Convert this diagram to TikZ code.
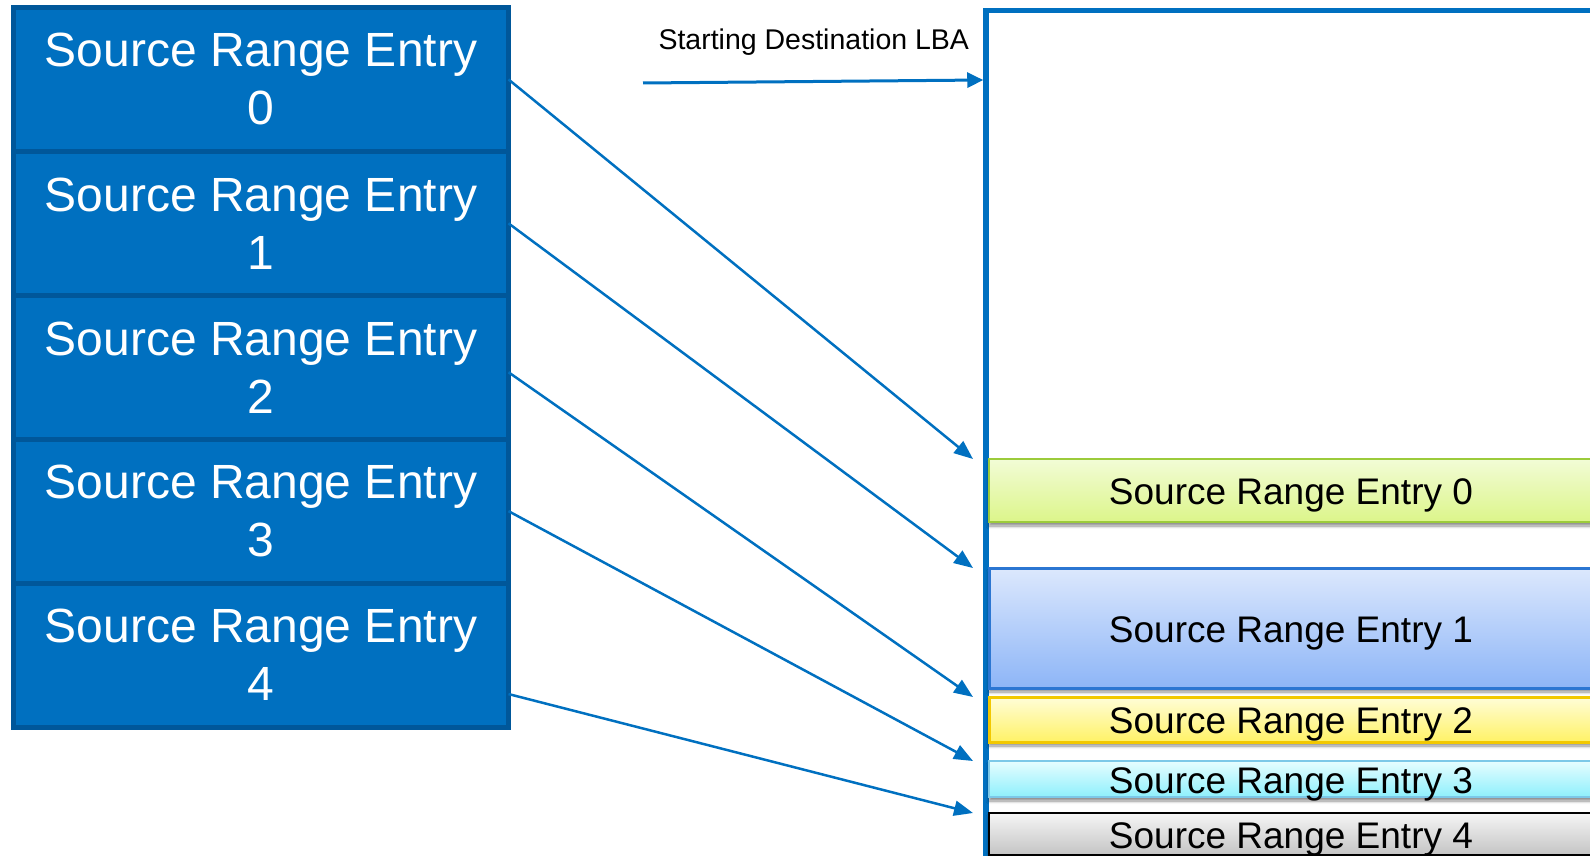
\documentclass[tikz,border=0pt]{standalone}
\usepackage{fontspec}
\setmainfont{Liberation Sans}
\usetikzlibrary{arrows.meta,calc,shadows.blur}

\definecolor{srcblue}{HTML}{0070C0}
\definecolor{srcedge}{HTML}{00579A}
\definecolor{grnTop}{HTML}{F2FCD6}
\definecolor{grnBot}{HTML}{DCF58A}
\definecolor{grnEdge}{HTML}{9CCB3B}
\definecolor{bluTop}{HTML}{DCE8FD}
\definecolor{bluBot}{HTML}{8DB5F7}
\definecolor{bluEdge}{HTML}{2B76D2}
\definecolor{yelTop}{HTML}{FFFDD8}
\definecolor{yelBot}{HTML}{FFF266}
\definecolor{yelEdge}{HTML}{F2C800}
\definecolor{cynTop}{HTML}{E6FDFF}
\definecolor{cynBot}{HTML}{8EF0FC}
\definecolor{cynEdge}{HTML}{7CC8E8}
\definecolor{gryTop}{HTML}{F5F5F5}
\definecolor{gryBot}{HTML}{C4C4C4}

\begin{document}
\begin{tikzpicture}[x=1pt,y=-1pt,
  srcbox/.style={draw=srcedge, line width=5pt, fill=srcblue,
    minimum width=495pt, minimum height=143.9pt, inner sep=0pt, outer sep=0pt,
    text=white, align=center, font=\fontsize{48}{58}\selectfont},
  link/.style={draw=srcblue, line width=2.5pt,
    -{Triangle[length=19pt,width=15pt]}},
  lbaarrow/.style={draw=srcblue, line width=3pt,
    -{Triangle[length=16pt,width=15pt]}},
  destbox/.style={draw=srcblue, line width=5.5pt, minimum width=1000pt,
    minimum height=1000pt, anchor=north west, inner sep=0pt, outer sep=0pt},
  bar/.style={minimum width=604pt, inner sep=0pt, outer sep=0pt,
    text height=28pt, text depth=0pt, text=black,
    font=\fontsize{37}{44}\selectfont,
    blur shadow={shadow xshift=0pt, shadow yshift=-4pt,
      shadow blur radius=3pt, shadow blur steps=6, shadow opacity=45}},
]
\useasboundingbox (0,0) rectangle (1590,856);
\clip (0,0) rectangle (1590,856);

% destination block (extends past the right and bottom edges)
\node[destbox] (dest) at (986,10.5) {};

% source range entries
\node[srcbox] (s0) at (261,79.45)  {Source Range Entry\\0};
\node[srcbox] (s1) at (261,223.35) {Source Range Entry\\1};
\node[srcbox] (s2) at (261,367.25) {Source Range Entry\\2};
\node[srcbox] (s3) at (261,511.15) {Source Range Entry\\3};
\node[srcbox] (s4) at (261,655.05) {Source Range Entry\\4};

% entries placed in the destination
\node[bar, draw=grnEdge, line width=2pt, top color=grnTop, bottom color=grnBot,
  minimum height=63pt] (d0) at (1291,490.5) {Source Range Entry 0};
\node[bar, draw=bluEdge, line width=3pt, top color=bluTop, bottom color=bluBot,
  minimum height=120pt] (d1) at (1291,628) {Source Range Entry 1};
\node[bar, draw=yelEdge, line width=3pt, top color=yelTop, bottom color=yelBot,
  minimum height=45pt] (d2) at (1291,719.5) {Source Range Entry 2};
\node[bar, draw=cynEdge, line width=2pt, top color=cynTop, bottom color=cynBot,
  minimum height=36pt] (d3) at (1291,779) {Source Range Entry 3};
\node[bar, draw=black, line width=2pt, top color=gryTop, bottom color=gryBot,
  minimum height=42pt] (d4) at (1291,834) {Source Range Entry 4};

% starting LBA marker
\node[anchor=base west, font=\fontsize{28.5}{34}\selectfont] (lba) at (655,50)
  {Starting Destination LBA};
\coordinate (lbaStart) at (643,83);
\draw[lbaarrow] (lbaStart) -- ($(dest.north west)+(-2.75,69.5)$);

% mapping arrows
\draw[link] (s0.east) -- ([xshift=-16pt]d0.north west);
\draw[link] (s1.east) -- ([xshift=-16pt]d1.north west);
\draw[link] ([yshift=-5pt]s2.east) -- ([xshift=-16pt]d2.north west);
\draw[link] (s3.east) -- ([xshift=-16pt]d3.north west);
\draw[link] ([yshift=-39pt]s4.east) -- ([xshift=-16pt]d4.north west);
\end{tikzpicture}
\end{document}
